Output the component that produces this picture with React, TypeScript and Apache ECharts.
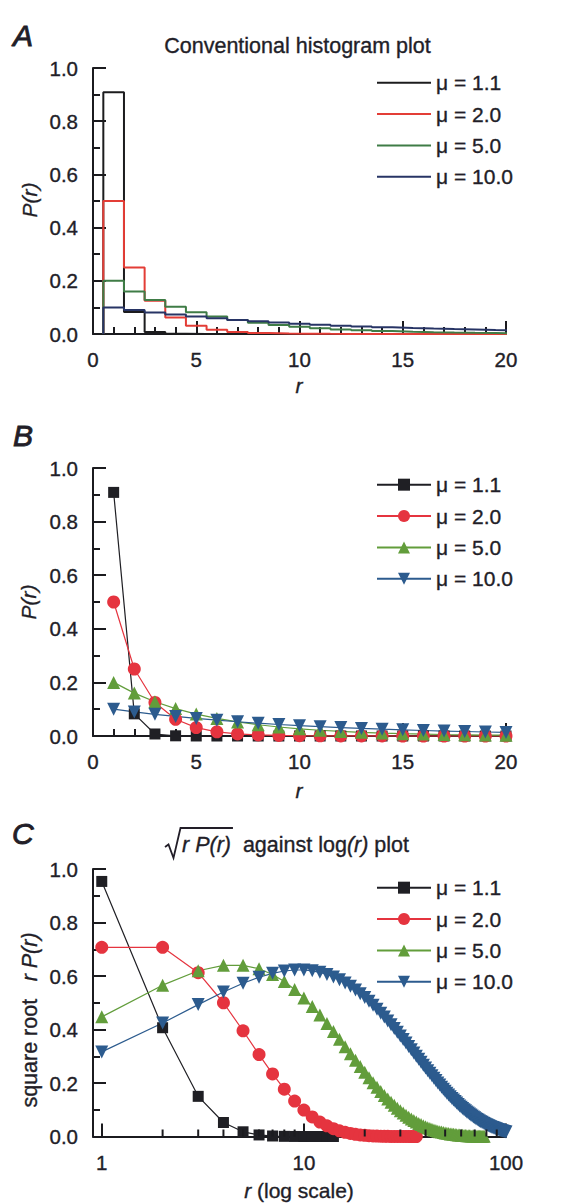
import React, { useEffect, useRef } from 'react';
import * as echarts from 'echarts';

// ---------- data ----------
const rValues = [1, 2, 3, 4, 5, 6, 7, 8, 9, 10, 11, 12, 13, 14, 15, 16, 17, 18, 19, 20];
const muLabels = ['μ = 1.1', 'μ = 2.0', 'μ = 5.0', 'μ = 10.0'];

const pMu11 = [0.909, 0.0826, 0.0075, 0.0007, 0.0001, 0, 0, 0, 0, 0, 0, 0, 0, 0, 0, 0, 0, 0, 0, 0];
const pMu2 = [0.5, 0.25, 0.125, 0.0625, 0.0313, 0.0156, 0.0078, 0.0039, 0.002, 0.001, 0.0005, 0.0002, 0.0001, 0.0001, 0, 0, 0, 0, 0, 0];
const pMu5 = [0.2, 0.16, 0.128, 0.1024, 0.0819, 0.0655, 0.0524, 0.0419, 0.0336, 0.0268, 0.0215, 0.0172, 0.0137, 0.011, 0.0088, 0.007, 0.0056, 0.0045, 0.0036, 0.0029];
const pMu10 = [0.1, 0.09, 0.081, 0.0729, 0.0656, 0.059, 0.0531, 0.0478, 0.043, 0.0387, 0.0349, 0.0314, 0.0282, 0.0254, 0.0229, 0.0206, 0.0185, 0.0167, 0.015, 0.0135];

// sqrt(r P(r)) (r = 1, 2, 3, ...)
const cMu11 = [0.9535, 0.4066, 0.1501, 0.0523, 0.0176, 0.0058, 0.0019, 0.0006, 0.0002, 0.0001, 0, 0, 0, 0];
const cMu2 = [0.7071, 0.7071, 0.6124, 0.5, 0.3953, 0.3062, 0.2339, 0.1768, 0.1326, 0.0988,
  0.0733, 0.0541, 0.0398, 0.0292, 0.0214, 0.0156, 0.0114, 0.0083, 0.006, 0.0044,
  0.0032, 0.0023, 0.0017, 0.0012, 0.0009, 0.0006, 0.0004, 0.0003, 0.0002, 0.0002,
  0.0001, 0.0001, 0.0001, 0, 0, 0];
const cMu5 = [0.4472, 0.5657, 0.6197, 0.64, 0.64, 0.6271, 0.6058, 0.5793, 0.5495, 0.5181,
  0.486, 0.454, 0.4227, 0.3923, 0.3632, 0.3355, 0.3094, 0.2847, 0.2616, 0.2401,
  0.22, 0.2014, 0.1842, 0.1683, 0.1537, 0.1402, 0.1277, 0.1164, 0.1059, 0.0963,
  0.0876, 0.0796, 0.0723, 0.0657, 0.0596, 0.0541, 0.049, 0.0445, 0.0403, 0.0364,
  0.033, 0.0298, 0.0271, 0.0245, 0.0222, 0.02, 0.0181, 0.0164, 0.0148, 0.0133,
  0.0121, 0.0109, 0.0098, 0.0089, 0.008, 0.0072, 0.0065, 0.0059, 0.0053, 0.0048,
  0.0043, 0.0039, 0.0035, 0.0032, 0.0029, 0.0026, 0.0023, 0.0021, 0.0019, 0.0017,
  0.0015, 0.0014, 0.0012, 0.0011, 0.001, 0.0009, 0.0008, 0.0007];
const cMu10 = [0.3162, 0.4243, 0.493, 0.54, 0.5728, 0.5952, 0.6099, 0.6186, 0.6224, 0.6224,
  0.6193, 0.6137, 0.6059, 0.5965, 0.5858, 0.574, 0.5613, 0.5479, 0.534, 0.5198,
  0.5053, 0.4906, 0.4759, 0.4612, 0.4466, 0.432, 0.4177, 0.4035, 0.3896, 0.3759,
  0.3625, 0.3494, 0.3366, 0.3241, 0.312, 0.3002, 0.2887, 0.2776, 0.2668, 0.2563,
  0.2462, 0.2364, 0.2269, 0.2177, 0.2089, 0.2004, 0.1921, 0.1842, 0.1766, 0.1692,
  0.1621, 0.1553, 0.1488, 0.1424, 0.1364, 0.1305, 0.1249, 0.1196, 0.1144, 0.1095,
  0.1047, 0.1001, 0.0958, 0.0916, 0.0875, 0.0837, 0.08, 0.0765, 0.0731, 0.0698,
  0.0667, 0.0637, 0.0609, 0.0582, 0.0555, 0.053, 0.0506, 0.0484, 0.0462, 0.0441,
  0.042, 0.0402, 0.0383, 0.0366, 0.0349, 0.0333, 0.0318, 0.0304, 0.0289, 0.0276,
  0.0263, 0.0251, 0.024, 0.0228, 0.0218, 0.0208, 0.0198, 0.0189, 0.018, 0.0172];

const yTicks = [0, 0.2, 0.4, 0.6, 0.8, 1.0];
const logMajorTicks = [1, 10, 100];
const logMinorTicks = [2, 3, 4, 5, 6, 7, 8, 9, 20, 30, 40, 50, 60, 70, 80, 90];

// ---------- styles ----------
const FONT = '"Liberation Sans", Arial, Helvetica, sans-serif';
const TXT = '#221e28';
const AX = '#1b1b1f';
const TB = { textBorderColor: TXT, textBorderWidth: 0.35 };
const histColors = ['#1c1c1e', '#e33d36', '#3f7c46', '#273465'];
const markColors = ['#1f1f24', '#e5343f', '#629d3b', '#2c5b8e'];
const symbols = ['rect', 'circle', 'triangle', 'triangle'];
const symbolSizes = [11, 13, 13, 13];
const symbolRotates = [0, 0, 0, 180];

const GL = 93;
const GR = 63;
const gridTops = [68, 468, 869];
const gridHeights = [266, 268, 267.5];
const TICK_FS = 20.5;

function makeYAxis(i: number) {
  return {
    type: 'value', gridIndex: i, min: yTicks[0], max: yTicks[yTicks.length - 1], interval: 0.2,
    axisLine: { show: true, lineStyle: { color: AX, width: 2 } },
    axisTick: { show: true, inside: true, length: 13, lineStyle: { color: AX, width: 2 } },
    minorTick: { show: true, splitNumber: 2, length: 7, lineStyle: { color: AX, width: 2 } },
    splitLine: { show: false },
    axisLabel: { formatter: (v: number) => v.toFixed(1), margin: 15, fontFamily: FONT, fontSize: TICK_FS, color: TXT, ...TB },
  };
}

function makeLinX(i: number) {
  return {
    type: 'value', gridIndex: i, min: 0, max: 20, interval: 5,
    axisLine: { show: true, lineStyle: { color: AX, width: 2 } },
    axisTick: { show: true, inside: true, length: 13, lineStyle: { color: AX, width: 2 } },
    minorTick: { show: true, splitNumber: 5, length: 7, lineStyle: { color: AX, width: 2 } },
    splitLine: { show: false },
    axisLabel: { margin: 15, fontFamily: FONT, fontSize: TICK_FS, color: TXT, ...TB },
  };
}

export default function App() {
  const ref = useRef<HTMLDivElement>(null);
  useEffect(() => {
    if (!ref.current) return;
    const chart = echarts.init(ref.current, null, { renderer: 'svg' });

    // measure title segment for the radical's overline
    const cv = document.createElement('canvas');
    const ctx = cv.getContext('2d');
    let wRP = 50;
    if (ctx) {
      ctx.font = 'italic 21.5px "Liberation Sans"';
      wRP = ctx.measureText('r P(r)').width;
    }
    const titleX = 182;
    const titleY = 845;

    const pSets = [pMu11, pMu2, pMu5, pMu10];
    const cSets = [cMu11, cMu2, cMu5, cMu10];

    const series: any[] = [];
    // Panel A: histogram outlines
    pSets.forEach((p, k) => {
      const data: number[][] = [[rValues[0] - 0.5, 0]];
      rValues.forEach((r, i) => data.push([r + 0.5, p[i]]));
      series.push({
        type: 'line', name: 'A|' + muLabels[k], xAxisIndex: 0, yAxisIndex: 0, data,
        step: 'start', symbol: 'none', clip: true,
        lineStyle: { color: histColors[k], width: 2 }, itemStyle: { color: histColors[k] },
      });
    });
    // Panel B
    pSets.forEach((p, k) => {
      series.push({
        type: 'line', name: 'B|' + muLabels[k], xAxisIndex: 1, yAxisIndex: 1,
        data: rValues.map((r, i) => [r, p[i]]),
        symbol: symbols[k], symbolSize: symbolSizes[k], symbolRotate: symbolRotates[k],
        showSymbol: true, showAllSymbol: true, clip: false,
        lineStyle: { color: markColors[k], width: 1.2 }, itemStyle: { color: markColors[k] },
      });
    });
    // Panel C
    cSets.forEach((c, k) => {
      series.push({
        type: 'line', name: 'C|' + muLabels[k], xAxisIndex: 2, yAxisIndex: 2,
        data: c.map((v, i) => [i + 1, v]),
        symbol: symbols[k], symbolSize: symbolSizes[k], symbolRotate: symbolRotates[k],
        showSymbol: true, showAllSymbol: true, clip: false,
        lineStyle: { color: markColors[k], width: 1.2 }, itemStyle: { color: markColors[k] },
      });
    });
    // minor ticks of the log axis
    series.push({
      type: 'custom', name: 'logMinor', xAxisIndex: 2, yAxisIndex: 2, silent: true, z: 6, clip: false,
      data: logMinorTicks.map((v) => [v, 0]),
      renderItem: (params: any, api: any) => {
        const p = api.coord([api.value(0), 0]);
        return { type: 'line', shape: { x1: p[0], y1: p[1], x2: p[0], y2: p[1] - 7 }, style: { stroke: AX, lineWidth: 2 } };
      },
    });

    const legendTops = [72, 474, 877];
    const legends = ['A', 'B', 'C'].map((p, i) => ({
      orient: 'vertical', left: 376, top: legendTops[i], padding: 0,
      itemWidth: 54, itemHeight: 15, itemGap: 10, selectedMode: false,
      data: muLabels.map((m) => p + '|' + m),
      formatter: (n: string) => n.split('|')[1],
      textStyle: { fontFamily: FONT, fontSize: 21, color: TXT, lineHeight: 20, ...TB },
      itemStyle: i === 0 ? { opacity: 0 } : {},
    }));

    const txt = (text: string, x: number, y: number, extra: any = {}, el: any = {}) => ({
      type: 'text', x, y, silent: true, ...el,
      style: {
        text, fontFamily: FONT, fontSize: 21, fill: TXT, stroke: TXT, lineWidth: 0.35,
        align: 'center', verticalAlign: 'middle', ...extra,
      },
    });
    const rich = (fs: number) => ({
      n: { fontFamily: FONT, fontSize: fs, fill: TXT, stroke: TXT, lineWidth: 0.35 },
      i: { fontFamily: FONT, fontSize: fs, fontStyle: 'italic', fill: TXT, stroke: TXT, lineWidth: 0.35 },
    });

    const graphic: any[] = [
      txt('A', 13, 35, { fontSize: 30, fontStyle: 'italic', align: 'left', lineWidth: 0.9 }),
      txt('B', 13, 435, { fontSize: 30, fontStyle: 'italic', align: 'left', lineWidth: 0.9 }),
      txt('C', 12, 833, { fontSize: 30, fontStyle: 'italic', align: 'left', lineWidth: 0.9 }),
      txt('Conventional histogram plot', 297.5, 46, { fontSize: 21.5 }),
      txt('P(r)', 29, 200, { fontStyle: 'italic' }, { rotation: Math.PI / 2 }),
      txt('P(r)', 28, 602, { fontStyle: 'italic' }, { rotation: Math.PI / 2 }),
      txt('{n|square root}   {i|r P(r)}', 30, 1020, { rich: rich(21.5) }, { rotation: Math.PI / 2 }),
      txt('r', 299, 385, { fontStyle: 'italic' }),
      txt('r', 299, 790, { fontStyle: 'italic' }),
      txt('{i|r} {n|(log scale)}', 299, 1190, { rich: rich(21) }),
      txt('{i|r P(r)}{n|  against log}{i|(r)}{n| plot}', titleX, titleY, { align: 'left', rich: rich(21.5) }),
      {
        type: 'polyline', silent: true,
        shape: { points: [[165, 847], [168.5, 844.5], [173.5, 858], [180.5, 828], [titleX + wRP + 2, 828]] },
        style: { stroke: TXT, lineWidth: 1.8, fill: 'none' },
      },
    ];

    chart.setOption({
      animation: false,
      backgroundColor: '#ffffff',
      grid: gridTops.map((t, i) => ({ left: GL, right: GR, top: t, height: gridHeights[i], containLabel: false })),
      xAxis: [
        makeLinX(0),
        makeLinX(1),
        {
          type: 'log', gridIndex: 2, logBase: 10, min: 0.905, max: 100,
          axisLine: { show: true, lineStyle: { color: AX, width: 2 } },
          axisTick: { show: true, inside: true, length: 13, lineStyle: { color: AX, width: 2 } },
          minorTick: { show: false },
          splitLine: { show: false },
          axisLabel: {
            margin: 15, fontFamily: FONT, fontSize: TICK_FS, color: TXT, ...TB,
            formatter: (v: number) => (logMajorTicks.some((m) => Math.abs(m - v) < 1e-6) ? String(v) : ''),
          },
        },
      ],
      yAxis: [makeYAxis(0), makeYAxis(1), makeYAxis(2)],
      legend: legends,
      series,
      graphic,
    });
    return () => chart.dispose();
  }, []);
  return <div ref={ref} style={{ position: 'absolute', left: 0, top: 0, width: 569, height: 1203 }} />;
}
